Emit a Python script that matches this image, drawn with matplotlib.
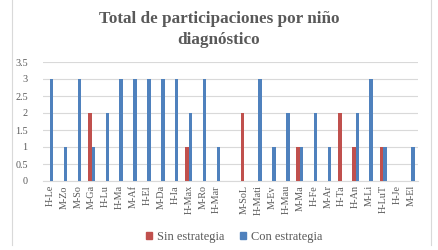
import matplotlib
matplotlib.use("Agg")
import matplotlib.pyplot as plt
import numpy as np
from matplotlib.lines import Line2D
from matplotlib.patches import Patch

categories = ["H-Le", "M-Zo", "M-So", "M-Ga", "H-Lu", "H-Ma", "M-Af", "H-El", "M-Da",
              "H-Ia", "H-Max", "M-Ro", "H-Mar", "", "M-SoL", "H-Mati", "M-Ev", "H-Mau",
              "M-Ma", "H-Fe", "M-Ar", "H-Ta", "H-An", "M-Li", "H-LuT", "H-Je", "M-El"]
sin_estrategia = [0, 0, 0, 2, 0, 0, 0, 0, 0, 0, 1, 0, 0, 0, 2, 0, 0, 0, 1, 0, 0, 2, 1, 0, 1, 0, 0]
con_estrategia = [3, 1, 3, 1, 2, 3, 3, 3, 3, 3, 2, 3, 1, 0, 0, 3, 1, 2, 1, 2, 1, 0, 2, 3, 1, 0, 1]
yticks = [0, 0.5, 1, 1.5, 2, 2.5, 3, 3.5]
ytick_labels = ["0", "0.5", "1", "1.5", "2", "2.5", "3", "3.5"]

RED = "#c0504d"
BLUE = "#4f81bd"
GRAY = "#595959"
FONT = "Liberation Serif"

fig = plt.figure(figsize=(4.38, 2.5), dpi=100)
ax = fig.add_axes([43/438, 1 - 181/250, (418-43)/438, (181-62)/250])

x = np.arange(len(categories))
w = 0.25
ax.bar(x - w/2, sin_estrategia, width=w, color=RED, zorder=3, label="Sin estrategia")
ax.bar(x + w/2, con_estrategia, width=w, color=BLUE, zorder=3, label="Con estrategia")

ax.set_xlim(-0.5, len(categories) - 0.5)
ax.set_ylim(0, 3.5)
ax.set_yticks(yticks)
ax.set_yticklabels(ytick_labels, fontsize=7.3, color=GRAY, family=FONT)
ax.set_xticks(x)
ax.set_xticklabels(categories, rotation=90, fontsize=7.3, color=GRAY, family=FONT)
ax.tick_params(axis="both", length=0, pad=3)
ax.tick_params(axis="y", pad=11)
ax.grid(axis="y", color="#d9d9d9", linewidth=0.8, zorder=0)
for s in ["top", "right", "left"]:
    ax.spines[s].set_visible(False)
ax.spines["bottom"].set_color("#d9d9d9")
ax.spines["bottom"].set_linewidth(0.8)

fig.text(0.5, 1 - 29.5/250, "Total de participaciones por niño\ndiagnóstico", ha="center", va="center",
         fontsize=12.3, fontweight="bold", color=GRAY, family=FONT, linespacing=1.4)

handles = [Patch(color=RED, label="Sin estrategia"), Patch(color=BLUE, label="Con estrategia")]
fig.legend(handles=handles, loc="center", bbox_to_anchor=(234/438, 1 - 237/250), ncol=2, frameon=False,
           prop={"family": FONT, "size": 8.9}, labelcolor=GRAY, handlelength=0.5, handleheight=0.5,
           handletextpad=0.35, columnspacing=1.3)

for xx in [11.5/438, 431/438]:
    fig.add_artist(Line2D([xx, xx], [1 - 245/250, 1], transform=fig.transFigure, color="#d9d9d9", linewidth=0.8))

fig.savefig("out.png", dpi=100)
